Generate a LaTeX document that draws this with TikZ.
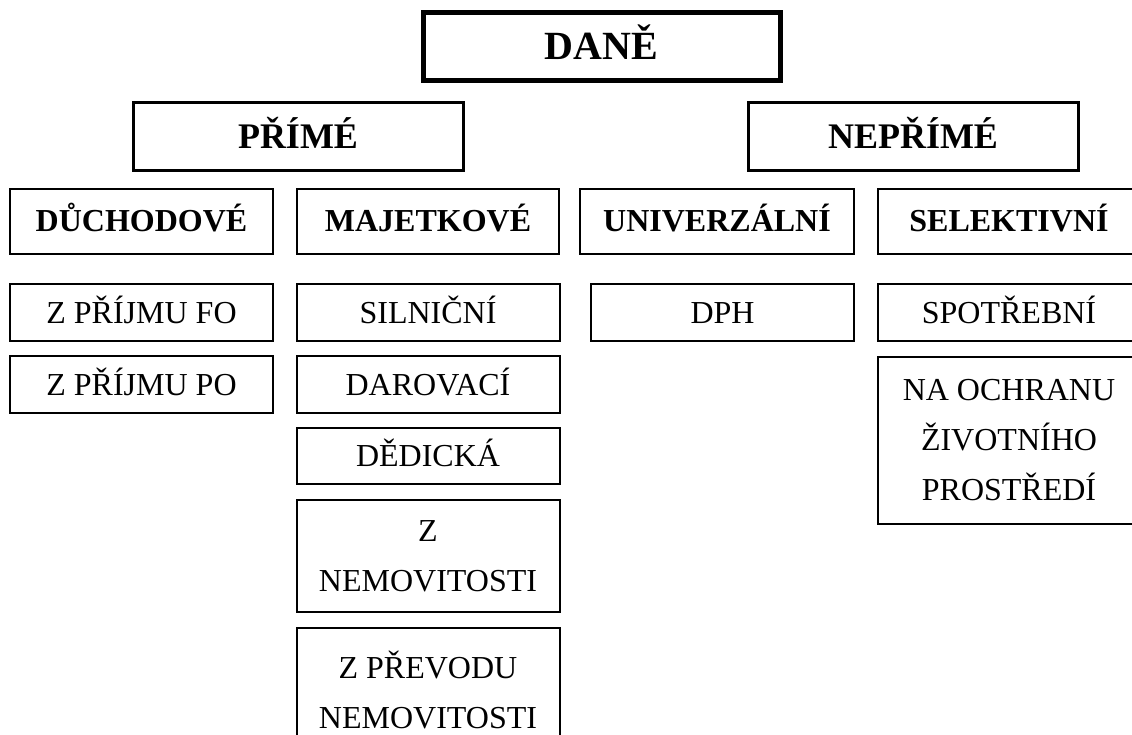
\documentclass[tikz,border=0pt]{standalone}
\usepackage{fontspec}
\setmainfont{Liberation Serif}

\begin{document}
\begin{tikzpicture}[x=1pt,y=-1pt,
  box/.style={draw,line width=2pt,inner sep=0pt,minimum width=263pt,align=center,
    text height=21pt,text depth=0pt,font=\fontsize{32}{50}\selectfont},
  headbox/.style={box,minimum height=65pt,font=\fontsize{32}{50}\selectfont\bfseries},
  kindbox/.style={box,line width=3pt,minimum width=330pt,minimum height=68pt,
    text height=24.3pt,font=\fontsize{36}{40}\selectfont\bfseries}]
  \useasboundingbox (0,0) rectangle (1132,734);
  \clip (0,0) rectangle (1132,734);
  % top
  \node[box,line width=5pt,minimum width=357pt,minimum height=68pt,text height=27pt,
    font=\fontsize{40}{48}\selectfont\bfseries] (dane) at (601.5,46) {DANĚ};
  \node[kindbox] (prime) at (298,136) {PŘÍMÉ};
  \node[kindbox] (neprime) at (913,136) {NEPŘÍMÉ};
  % groups
  \foreach \n/\x/\w/\t in {duch/141.5/263/DŮCHODOVÉ,maj/428/262/MAJETKOVÉ,
    univ/717/274/UNIVERZÁLNÍ,sel/1009/262/SELEKTIVNÍ}
    {\node[headbox,minimum width=\w pt] (\n) at (\x,221) {\t};}
  % taxes
  \foreach \n/\x/\y/\h/\d/\t in {fo/141.5/312.5/57/0/Z PŘÍJMU FO,po/141.5/384.5/57/0/Z PŘÍJMU PO,
    siln/428/312.5/57/0/SILNIČNÍ,dar/428/384.5/57/0/DAROVACÍ,ded/428/456/56/0/DĚDICKÁ,
    nem/428/556/112/50/{Z\\NEMOVITOSTI},prev/428/692.75/129.5/50/{Z PŘEVODU\\NEMOVITOSTI},
    dph/722.5/312.5/57/0/DPH,spot/1009/312.5/57/0/SPOTŘEBNÍ,
    ochr/1009/440/167/100/{NA OCHRANU\\ŽIVOTNÍHO\\PROSTŘEDÍ}}
    {\node[box,minimum height=\h pt,text height=21pt+\d pt] (\n) at (\x,\y) {\t};}
\end{tikzpicture}
\end{document}
